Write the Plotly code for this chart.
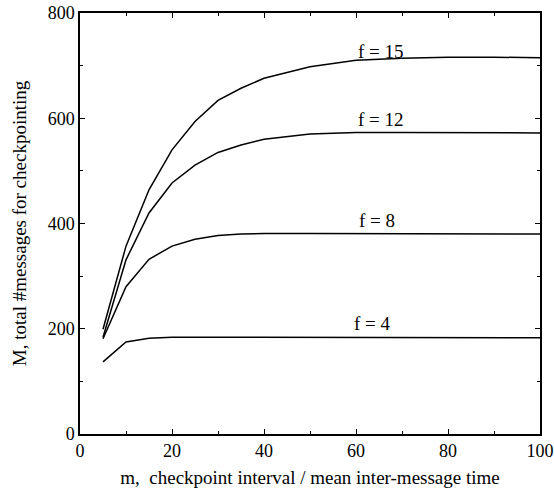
import plotly.graph_objects as go

m_vals = [5, 10, 15, 20, 25, 30, 35, 40, 50, 60, 70, 80, 90, 100]
f4 = [137, 175, 182, 184, 184, 184, 184, 184, 184, 184, 184, 184, 183, 183]
f8 = [181, 280, 332, 357, 370, 377, 380, 381, 381, 381, 381, 381, 380, 380]
f12 = [184, 331, 420, 477, 511, 535, 549, 560, 570, 573, 573, 573, 572, 572]
f15 = [199, 357, 464, 540, 594, 634, 657, 676, 698, 710, 714, 716, 716, 715]

series = [("f = 4", f4, 63.5, 210), ("f = 8", f8, 64.5, 405),
          ("f = 12", f12, 65.5, 597), ("f = 15", f15, 65.5, 726)]

FONT = "Liberation Serif"

fig = go.Figure()
for name, ys, lx, ly in series:
    fig.add_trace(go.Scatter(x=m_vals, y=ys, mode="lines", name=name,
                             line=dict(color="black", width=1.5), showlegend=False))
    fig.add_annotation(x=lx, y=ly, text=name, showarrow=False,
                       font=dict(family=FONT, size=19, color="black"))

axis_common = dict(showline=True, linecolor="black", linewidth=1.5, mirror="ticks",
                   ticks="inside", ticklen=5, tickcolor="black", showgrid=False,
                   zeroline=False, automargin=False,
                   tickfont=dict(family=FONT, size=18, color="black"))

fig.update_xaxes(range=[0, 100], dtick=20, tick0=0,
                 minor=dict(ticks="inside", ticklen=3, dtick=10, tickcolor="black", showgrid=False),
                 title=dict(text="m,  checkpoint interval / mean inter-message time",
                            font=dict(family=FONT, size=19, color="black"), standoff=10),
                 **axis_common)
fig.update_yaxes(range=[0, 800], dtick=200, tick0=0,
                 minor=dict(ticks="inside", ticklen=3, dtick=100, tickcolor="black", showgrid=False),
                 title=dict(text="M, total #messages for checkpointing",
                            font=dict(family=FONT, size=19, color="black"), standoff=16),
                 **axis_common)

fig.update_layout(width=554, height=491, paper_bgcolor="white", plot_bgcolor="white",
                  margin=dict(l=80, r=14, t=13, b=57))
fig.write_html("out.html", config={"displayModeBar": False},
               post_script="document.body.style.margin='0';document.body.style.overflow='hidden';")
